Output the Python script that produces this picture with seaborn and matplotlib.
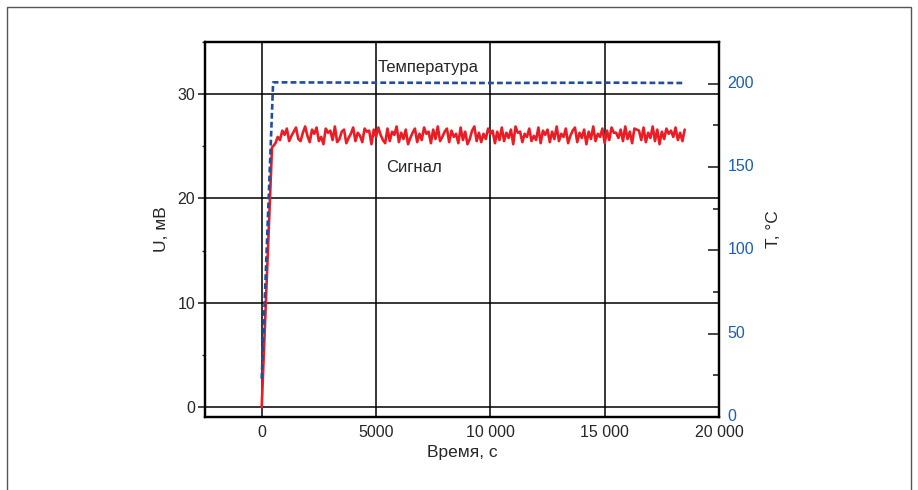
import numpy as np
import pandas as pd
import matplotlib.pyplot as plt
import seaborn as sns
from matplotlib.patches import Rectangle
from matplotlib.transforms import ScaledTranslation
from matplotlib.ticker import MultipleLocator, FuncFormatter

sns.set_style("white")
plt.rcParams["font.family"] = ["Liberation Sans", "DejaVu Sans"]

# ---------------------------------------------------------------------------
# data
# ---------------------------------------------------------------------------
# signal: ramp, then noisy plateau sampled every 100 s from 600 s to 18 500 s
signal_ramp_t = [0, 450, 500]
signal_ramp_u = [0.0, 24.9, 25.0]
signal_plateau_u = [
    25.3, 25.9, 25.6, 26.5, 26.1, 26.7, 25.5, 26.0, 26.4, 26.8,
    25.7, 25.5, 26.3, 26.9, 26.0, 25.4, 26.6, 26.2, 26.8, 25.5,
    25.9, 25.2, 26.7, 26.3, 26.5, 25.6, 26.9, 25.4, 25.7, 26.4,
    26.6, 25.3, 25.8, 26.2, 26.8, 25.5, 26.3, 26.0, 25.4, 26.7,
    26.4, 26.5, 25.2, 26.6, 25.9, 26.8, 26.1, 25.6, 25.3, 26.7,
    25.5, 26.4, 26.1, 26.9, 25.4, 26.3, 25.7, 26.6, 25.2, 25.8,
    26.3, 26.7, 25.4, 26.2, 25.6, 26.8, 26.2, 26.4, 25.3, 26.6,
    25.7, 26.9, 25.5, 25.9, 26.4, 26.7, 25.4, 26.5, 25.9, 26.2,
    25.3, 26.8, 25.6, 26.4, 25.2, 25.7, 26.5, 26.9, 25.5, 26.3,
    25.4, 26.2, 25.7, 26.7, 26.2, 26.5, 25.3, 26.4, 25.6, 26.8,
    25.5, 26.3, 25.8, 26.6, 25.2, 26.9, 26.3, 26.4, 25.4, 26.2,
    25.9, 26.7, 25.5, 26.0, 25.6, 26.8, 25.3, 26.5, 26.1, 26.6,
    25.4, 26.4, 25.7, 26.9, 25.5, 26.2, 25.9, 26.7, 25.3, 26.0,
    26.5, 26.8, 25.4, 26.3, 25.8, 26.6, 25.2, 26.4, 25.7, 26.9,
    25.5, 26.2, 25.9, 26.7, 25.3, 26.5, 25.6, 26.8, 26.3, 26.3,
    25.8, 26.6, 25.5, 26.9, 25.7, 26.4, 25.3, 26.7, 26.6, 26.5,
    25.6, 26.8, 25.4, 26.3, 25.8, 26.9, 25.5, 26.6, 25.2, 26.4,
    25.7, 26.7, 26.2, 26.5, 25.9, 26.8, 25.6, 26.3, 25.5, 26.6,
]
signal_plateau_t = list(range(600, 18501, 100))

# temperature: fast ramp to ~200 C, then flat
temp_t = [0, 500, 5000, 10000, 15000, 18500]
temp_c = [23, 200.8, 200.6, 200.4, 200.6, 200.4]

x_ticks = [0, 5000, 10000, 15000, 20000]
u_ticks = [0, 10, 20, 30]
t_ticks = [0, 50, 100, 150, 200]

RED = "#ec1c24"
BLUE = "#1f4e9e"
BLUE_TXT = "#1a5fb4"

sig = pd.DataFrame({"t": signal_ramp_t + signal_plateau_t,
                    "u": signal_ramp_u + signal_plateau_u})
temp = pd.DataFrame({"t": temp_t, "c": temp_c})

# ---------------------------------------------------------------------------
fig = plt.figure(figsize=(9.18, 4.9), dpi=100)
ax = fig.add_axes([205 / 918, 1 - 417 / 490, 514 / 918, 375 / 490])

sns.lineplot(data=sig, x="t", y="u", ax=ax, color=RED, linewidth=1.9,
             sort=False, estimator=None, zorder=3)
ax.set_xlim(-2480, 20000)
ax.set_ylim(-0.95, 35)
ax.set_xticks(x_ticks)
ax.set_yticks(u_ticks)
ax.xaxis.set_minor_locator(MultipleLocator(2500))
ax.yaxis.set_minor_locator(MultipleLocator(5))
ax.xaxis.set_major_formatter(FuncFormatter(
    lambda v, p: "0" if v == 0 else ("5000" if v == 5000 else f"{int(v):,}".replace(",", " "))))
ax.grid(True, which="major", color="black", linewidth=1.1)
ax.tick_params(axis="x", which="major", direction="in", length=4, width=1.2,
               labelsize=11.5, pad=6)
ax.tick_params(axis="x", which="minor", direction="in", length=2.5, width=1)
ax.tick_params(axis="y", which="major", direction="out", length=5, width=1.2,
               labelsize=11.5, pad=2)
ax.tick_params(axis="y", which="minor", direction="out", length=2.5, width=1)
ax.set_xlabel("Время, с", fontsize=12.5, labelpad=3)
ax.set_ylabel("U, мВ", fontsize=12.5, labelpad=6)
for s in ax.spines.values():
    s.set_color("black")
    s.set_linewidth(1.6)

ax.text(5050, 32.6, "Температура", fontsize=12, ha="left", va="center")
ax.text(5450, 23.0, "Сигнал", fontsize=12, ha="left", va="center")

ax2 = ax.twinx()
sns.lineplot(data=temp, x="t", y="c", ax=ax2, color=BLUE, linewidth=1.9,
             sort=False, estimator=None)
ax2.lines[0].set_dashes([2.2, 1.2])
ax2.set_ylim(0, 225)
ax2.set_yticks(t_ticks)
ax2.yaxis.set_minor_locator(MultipleLocator(25))
ax2.tick_params(axis="y", which="major", direction="in", length=8, width=1.2,
                labelsize=11.5, labelcolor=BLUE_TXT, pad=6)
ax2.tick_params(axis="y", which="minor", direction="in", length=4, width=1.2)
ax2.set_ylabel("T, °C", fontsize=12.5, labelpad=9)
ax2.grid(False)
for s in ax2.spines.values():
    s.set_linewidth(1.6)
    s.set_color("black")

# right labels sit a little above their ticks, as in the reference
shift = ScaledTranslation(0, 1.5 / 72, fig.dpi_scale_trans)
for lbl in ax2.get_yticklabels():
    lbl.set_transform(lbl.get_transform() + shift)

fig.patches.append(Rectangle((7 / 918, -0.05), 904 / 918, 1.05 - 7 / 490,
                             transform=fig.transFigure, fill=False,
                             edgecolor="#555555", linewidth=1.0))

fig.savefig("out.png", dpi=100)
